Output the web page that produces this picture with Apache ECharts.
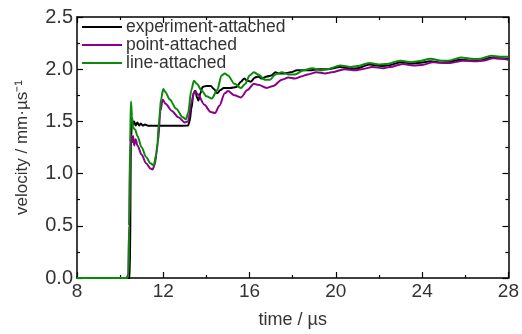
<!DOCTYPE html>
<html>
<head>
<meta charset="utf-8">
<script src="https://cdn.jsdelivr.net/npm/echarts@6/dist/echarts.min.js"></script>
<style>html,body{margin:0;padding:0;background:#fff}#c{width:522px;height:334px}</style>
</head>
<body>
<div id="c"></div>
<script>
// ---- data ----
var seriesNames = ['experiment-attached', 'point-attached', 'line-attached'];
var xTicks = [8, 12, 16, 20, 24, 28];
var yTicks = [0.0, 0.5, 1.0, 1.5, 2.0, 2.5];

var expT = [8, 10.45, 10.5, 10.55, 10.6, 10.65, 10.72, 10.8, 10.88, 10.96, 11.05, 11.15, 11.3, 12, 12.6, 13.15, 13.22, 13.3, 13.4, 13.5, 13.56, 13.63, 13.72, 13.82, 14.0, 14.2, 14.35, 14.5, 14.65, 14.8, 15.1, 15.4, 15.6, 15.75, 15.9, 16.05, 16.25, 16.4, 16.55, 16.8, 17.0, 17.2, 17.35, 17.6, 17.9, 18.2, 18.5, 18.8, 19.2, 19.6, 20.2, 20.8, 21.0, 21.55, 22.1, 22.4, 23.0, 23.5, 23.8, 24.4, 24.9, 25.2, 25.8, 26.4, 26.7, 27.2, 27.6, 28];
var expV = [0, 0, 1.30, 1.52, 1.47, 1.50, 1.46, 1.49, 1.46, 1.48, 1.46, 1.47, 1.458, 1.458, 1.458, 1.46, 1.50, 1.62, 1.77, 1.79, 1.73, 1.70, 1.77, 1.83, 1.84, 1.84, 1.81, 1.77, 1.80, 1.82, 1.82, 1.83, 1.88, 1.91, 1.89, 1.88, 1.92, 1.93, 1.91, 1.93, 1.94, 1.97, 1.96, 1.96, 1.97, 1.99, 1.99, 1.99, 2.00, 2.00, 2.02, 2.005, 2.01, 2.045, 2.03, 2.035, 2.066, 2.055, 2.06, 2.075, 2.065, 2.07, 2.09, 2.08, 2.085, 2.11, 2.105, 2.10];

var pointT = [8, 10.3, 10.38, 10.42, 10.47, 10.5, 10.55, 10.6, 10.65, 10.72, 10.8, 11.0, 11.2, 11.4, 11.5, 11.6, 11.75, 11.87, 11.97, 12.1, 12.4, 12.7, 13.0, 13.15, 13.3, 13.45, 13.6, 13.9, 14.2, 14.4, 14.6, 14.85, 15.0, 15.3, 15.6, 15.9, 16.2, 16.4, 16.8, 17.1, 17.5, 17.8, 18.1, 18.4, 18.7, 19.1, 19.5, 19.8, 20.4, 20.9, 21.2, 21.7, 22.2, 22.5, 23.1, 23.6, 24.0, 24.5, 25.0, 25.3, 25.9, 26.5, 26.8, 27.3, 27.7, 28];
var pointV = [0, 0, 0.03, 0.5, 1.2, 1.37, 1.30, 1.36, 1.27, 1.33, 1.27, 1.18, 1.10, 1.05, 1.04, 1.08, 1.30, 1.60, 1.71, 1.67, 1.60, 1.54, 1.49, 1.50, 1.68, 1.79, 1.76, 1.66, 1.59, 1.58, 1.65, 1.77, 1.79, 1.75, 1.73, 1.80, 1.86, 1.85, 1.82, 1.84, 1.90, 1.92, 1.91, 1.93, 1.95, 1.97, 1.96, 1.97, 2.00, 1.99, 2.00, 2.02, 2.01, 2.02, 2.05, 2.035, 2.04, 2.066, 2.06, 2.06, 2.08, 2.075, 2.08, 2.105, 2.10, 2.09];

var lineT = [8, 10.3, 10.38, 10.42, 10.46, 10.5, 10.55, 10.6, 10.7, 10.8, 11.0, 11.2, 11.4, 11.55, 11.7, 11.8, 11.9, 12.0, 12.1, 12.3, 12.6, 12.9, 13.05, 13.15, 13.3, 13.42, 13.55, 13.8, 14.0, 14.25, 14.5, 14.7, 14.85, 15.0, 15.3, 15.6, 15.8, 16.0, 16.2, 16.4, 16.7, 16.95, 17.2, 17.5, 17.8, 18.1, 18.5, 18.9, 19.3, 19.6, 20.2, 20.7, 21.0, 21.55, 22.0, 22.3, 23.0, 23.5, 23.8, 24.4, 24.9, 25.2, 25.8, 26.4, 26.7, 27.2, 27.6, 28];
var lineV = [0, 0, 0.02, 0.5, 1.3, 1.69, 1.55, 1.44, 1.42, 1.36, 1.25, 1.16, 1.10, 1.08, 1.20, 1.50, 1.72, 1.81, 1.78, 1.71, 1.62, 1.54, 1.52, 1.58, 1.80, 1.89, 1.86, 1.79, 1.74, 1.72, 1.80, 1.94, 1.96, 1.94, 1.86, 1.82, 1.86, 1.94, 1.97, 1.95, 1.90, 1.90, 1.95, 1.97, 1.95, 1.95, 1.99, 2.01, 1.99, 2.00, 2.035, 2.02, 2.03, 2.06, 2.045, 2.05, 2.08, 2.066, 2.075, 2.10, 2.08, 2.08, 2.113, 2.097, 2.10, 2.128, 2.12, 2.12];

var colors = ['#000000', '#8b008b', '#0a8a0a'];

function pairs(t, v) { return t.map(function (x, i) { return [x, v[i]]; }); }

var FONT = "'Liberation Sans', Arial, sans-serif";

var chart = echarts.init(document.getElementById('c'), null, { renderer: 'canvas' });

function xAx(pos, show) {
  return {
    type: 'value', position: pos, min: 8, max: 28, interval: 4,
    axisLine: { show: true, onZero: false, lineStyle: { color: '#000', width: 1.5 } },
    axisTick: { show: true, inside: true, length: 6, lineStyle: { color: '#000', width: 1.2 } },
    minorTick: { show: true, splitNumber: 2, length: 3, lineStyle: { color: '#000', width: 1.2 } },
    splitLine: { show: false },
    axisLabel: { show: show, color: '#333', fontFamily: FONT, fontSize: 19, margin: 4,
      formatter: function (v) { return xTicks.indexOf(v) >= 0 ? String(v) : ''; } },
    name: show ? 'time / µs' : '', nameLocation: 'middle', nameGap: 33,
    nameTextStyle: { color: '#333', fontFamily: FONT, fontSize: 18 }
  };
}
function yAx(pos, show) {
  return {
    type: 'value', position: pos, min: 0, max: 2.5, interval: 0.5,
    axisLine: { show: true, onZero: false, lineStyle: { color: '#000', width: 1.5 } },
    axisTick: { show: true, inside: true, length: 6, lineStyle: { color: '#000', width: 1.2 } },
    minorTick: { show: true, splitNumber: 2, length: 3, lineStyle: { color: '#000', width: 1.2 } },
    splitLine: { show: false },
    axisLabel: { show: show, color: '#333', fontFamily: FONT, fontSize: 20, margin: 4,
      formatter: function (v) { return v.toFixed(1); } },
    name: show ? 'velocity / mm·µs⁻¹' : '', nameLocation: 'middle', nameGap: 46, nameRotate: 90,
    nameTextStyle: { color: '#333', fontFamily: FONT, fontSize: 17 }
  };
}

var data = [pairs(expT, expV), pairs(pointT, pointV), pairs(lineT, lineV)];
var order = [1, 2, 0];
var series = order.map(function (i) {
  return {
    name: seriesNames[i], type: 'line', data: data[i], xAxisIndex: 0, yAxisIndex: 0,
    showSymbol: false, symbol: 'none', smooth: 0.3, smoothMonotone: 'x',
    lineStyle: { color: colors[i], width: 2 }, itemStyle: { color: colors[i] },
    z: 2 + i, animation: false
  };
});

chart.setOption({
  animation: false,
  backgroundColor: '#fff',
  grid: { left: 77, right: 10, top: 17, bottom: 49, containLabel: false },
  xAxis: [xAx('bottom', true), xAx('top', false)],
  yAxis: [yAx('left', true), yAx('right', false)],
  legend: {
    data: seriesNames, orient: 'vertical', left: 82, top: 18, padding: 0, itemGap: 0,
    icon: 'rect', itemWidth: 40, itemHeight: 2,
    textStyle: { color: '#333', fontFamily: FONT, fontSize: 17.5, lineHeight: 17.5, padding: [0, 0, 0, -1] },
    backgroundColor: 'rgba(255,255,255,0)'
  },
  series: series
});
</script>
</body>
</html>
